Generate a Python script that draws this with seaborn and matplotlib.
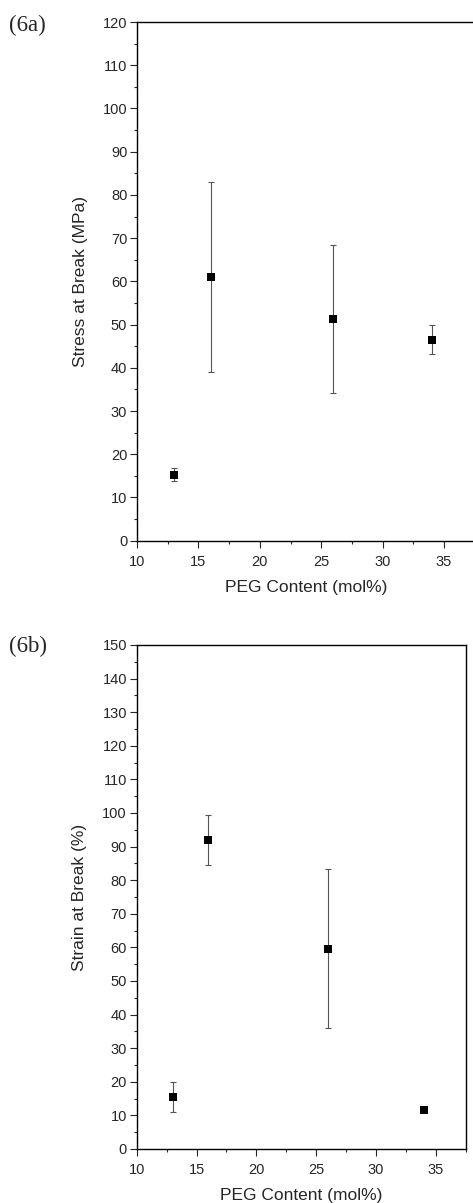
import matplotlib
matplotlib.use("Agg")
import matplotlib.pyplot as plt
from matplotlib.ticker import MultipleLocator
import seaborn as sns
import pandas as pd

# data
peg = [13, 16, 26, 34]
stress = [15.3, 61.0, 51.3, 46.5]
stress_err = [1.5, 22.0, 17.1, 3.3]
strain = [15.4, 92.0, 59.6, 11.7]
strain_err = [4.5, 7.4, 23.6, 0.5]

sns.set_style("ticks")
plt.rcParams['font.family'] = ['Liberation Sans', 'DejaVu Sans']

W, H = 473, 1203
fig = plt.figure(figsize=(W / 100, H / 100), dpi=100)


def px_axes(left, top, right, bottom):
    return fig.add_axes([left / W, 1 - bottom / H, (right - left) / W, (bottom - top) / H])


def panel(ax, y, err, ymax, ylabel, tag, ytag, box):
    left, top, right, bottom = box
    df = pd.DataFrame({"x": peg, "y": y})
    ax.errorbar(peg, y, yerr=err, fmt="none", ecolor="#555555", elinewidth=0.8,
                capsize=2.5, capthick=0.8, zorder=2)
    sns.scatterplot(data=df, x="x", y="y", marker="s", color="black", s=28,
                    edgecolor="black", linewidth=0, ax=ax, zorder=3)
    ax.set_xlim(10, 37.5)
    ax.set_ylim(0, ymax)
    ax.xaxis.set_major_locator(MultipleLocator(5))
    ax.xaxis.set_minor_locator(MultipleLocator(2.5))
    ax.yaxis.set_major_locator(MultipleLocator(10))
    ax.yaxis.set_minor_locator(MultipleLocator(5))
    ax.tick_params(which="major", direction="out", length=5, width=0.8, labelsize=10.5)
    ax.tick_params(axis="x", which="major", pad=5)
    ax.tick_params(axis="y", which="major", pad=2)
    ax.tick_params(which="minor", direction="out", length=2.5, width=0.8)
    ax.set_xticks([10, 15, 20, 25, 30, 35])
    for s in ax.spines.values():
        s.set_linewidth(1.0)
        s.set_color("black")
    ax.set_xlabel("PEG Content (mol%)", fontsize=12.5, va="center")
    ax.set_ylabel(ylabel, fontsize=12.5, va="center")
    ax.xaxis.set_label_coords(0.5, -(46.5 / (bottom - top)))
    ax.yaxis.set_label_coords(-(57 / (right - left)), 0.5)
    fig.text(9 / W, 1 - ytag / H, tag, family=["Liberation Serif", "DejaVu Serif"],
             fontsize=16.5, va="center", ha="left")


box1 = (137, 22, 474.7, 540.7)
ax1 = px_axes(*box1)
panel(ax1, stress, stress_err, 120, "Stress at Break (MPa)", "(6a)", 25, box1)

box2 = (136.7, 645, 465.7, 1149)
ax2 = px_axes(*box2)
panel(ax2, strain, strain_err, 150, "Strain at Break (%)", "(6b)", 646, box2)

fig.savefig("out.png", dpi=100)
